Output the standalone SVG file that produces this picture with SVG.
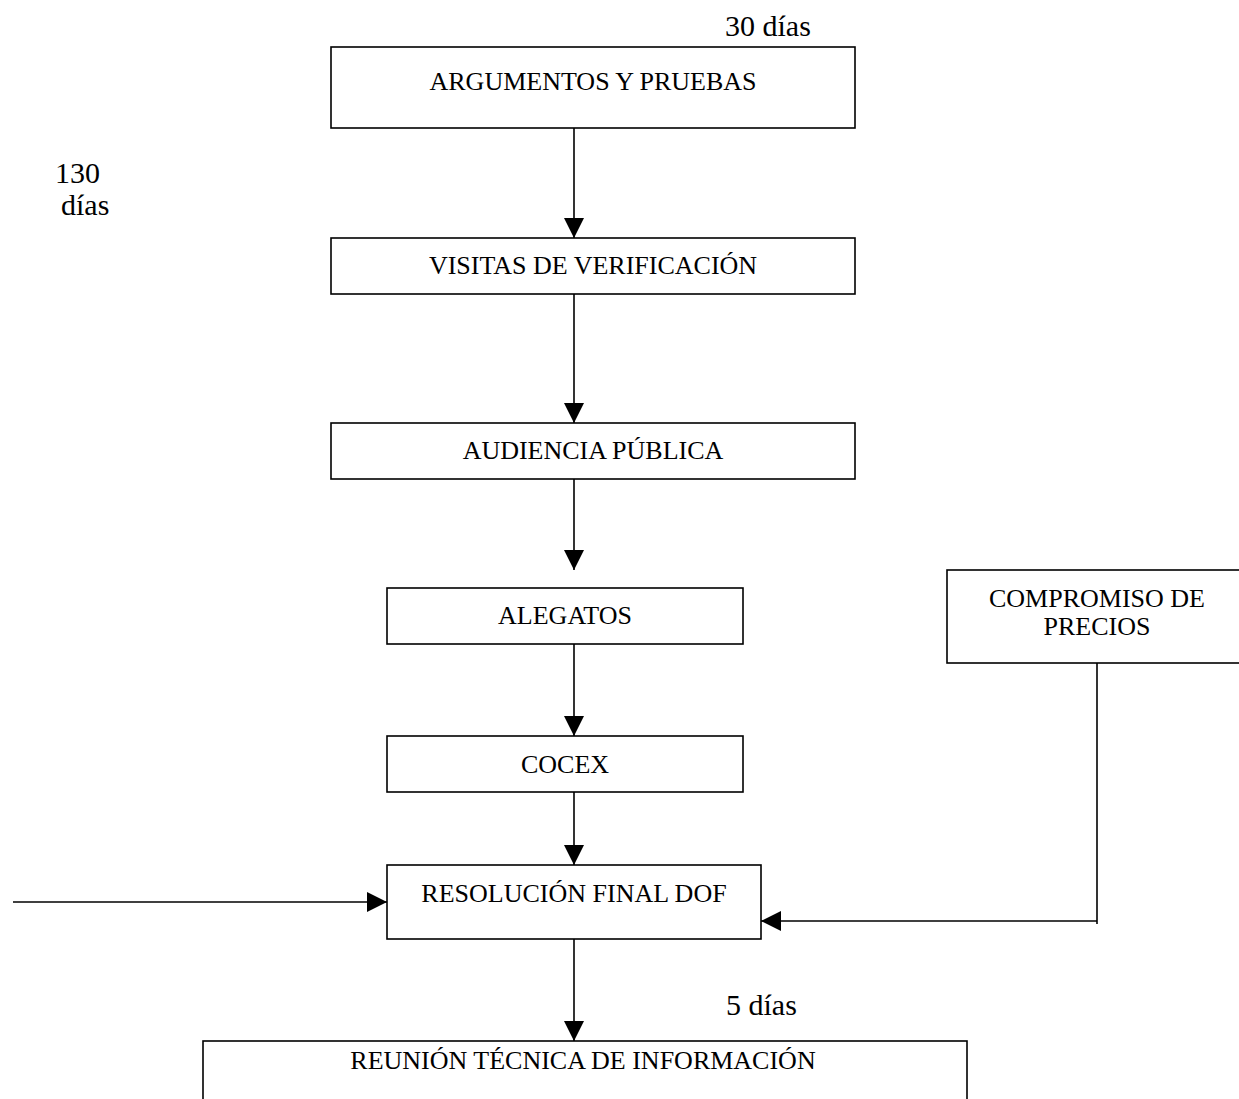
<svg xmlns="http://www.w3.org/2000/svg" width="1239" height="1099" viewBox="0 0 1239 1099">
<style>
.box{fill:#fff;stroke:#000;stroke-width:1.6}
.t{font-family:"Liberation Serif","Times New Roman",serif;font-size:26px;fill:#000;text-anchor:middle}
.lbl{font-family:"Liberation Serif","Times New Roman",serif;font-size:30px;fill:#000}
.c{fill:none;stroke:#000;stroke-width:1.6}
</style>
<defs>
<marker id="ah" markerWidth="20" markerHeight="20" viewBox="0 0 20 20" refX="20" refY="10" orient="auto" markerUnits="userSpaceOnUse">
<path d="M0,0 L20,10 L0,20 Z" fill="#000"/>
</marker>
</defs>
<rect width="1239" height="1099" fill="#fff"/>
<text class="lbl" x="725" y="36">30 días</text>
<text class="lbl" x="55" y="183">130</text>
<text class="lbl" x="61" y="215">días</text>
<text class="lbl" x="726" y="1015">5 días</text>
<g id="n1"><rect class="box" x="331" y="47" width="524" height="81"/><text class="t" x="593" y="90">ARGUMENTOS Y PRUEBAS</text></g>
<g id="n2"><rect class="box" x="331" y="238" width="524" height="56"/><text class="t" x="593" y="274">VISITAS DE VERIFICACIÓN</text></g>
<g id="n3"><rect class="box" x="331" y="423" width="524" height="56"/><text class="t" x="593" y="459">AUDIENCIA PÚBLICA</text></g>
<g id="n4"><rect class="box" x="387" y="588" width="356" height="56"/><text class="t" x="565" y="624">ALEGATOS</text></g>
<g id="n5"><rect class="box" x="387" y="736" width="356" height="56"/><text class="t" x="565" y="773">COCEX</text></g>
<g id="n6"><rect class="box" x="387" y="865" width="374" height="74"/><text class="t" x="574" y="902">RESOLUCIÓN FINAL DOF</text></g>
<g id="n7"><rect class="box" x="203" y="1041" width="764" height="80"/><text class="t" x="583" y="1069">REUNIÓN TÉCNICA DE INFORMACIÓN</text></g>
<g id="n8"><rect class="box" x="947" y="570" width="310" height="93"/><text class="t" x="1097" y="607">COMPROMISO DE</text><text class="t" x="1097" y="635">PRECIOS</text></g>
<g id="connectors">
<line class="c" x1="574" y1="128" x2="574" y2="238" marker-end="url(#ah)"/>
<line class="c" x1="574" y1="294" x2="574" y2="423" marker-end="url(#ah)"/>
<line class="c" x1="574" y1="479" x2="574" y2="570" marker-end="url(#ah)"/>
<line class="c" x1="574" y1="644" x2="574" y2="736" marker-end="url(#ah)"/>
<line class="c" x1="574" y1="792" x2="574" y2="865" marker-end="url(#ah)"/>
<line class="c" x1="574" y1="939" x2="574" y2="1041" marker-end="url(#ah)"/>
<line class="c" x1="13" y1="902" x2="387" y2="902" marker-end="url(#ah)"/>
<line class="c" x1="1097" y1="663" x2="1097" y2="924"/>
<line class="c" x1="1097" y1="921" x2="761" y2="921" marker-end="url(#ah)"/>
</g>
</svg>
